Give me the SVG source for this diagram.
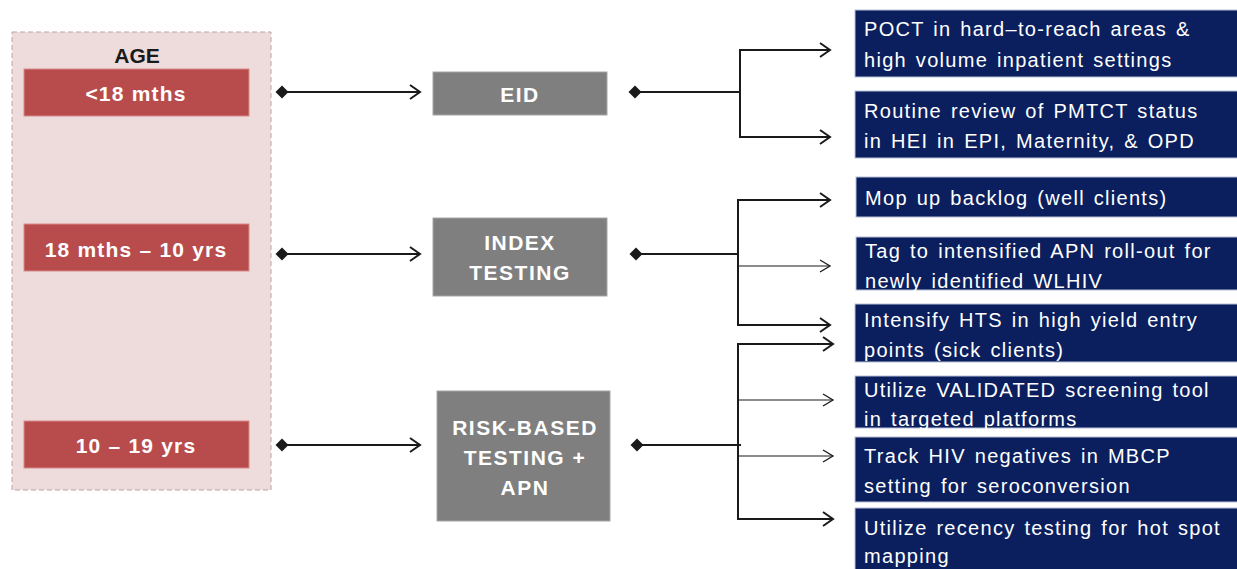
<svg xmlns="http://www.w3.org/2000/svg" width="1237" height="569" viewBox="0 0 1237 569">
<style>
.age{fill:#b84c4c;stroke:#d98a8a;stroke-width:1}
.agetxt{font-family:"Liberation Sans",Arial,sans-serif;font-weight:bold;font-size:21px;fill:#ffffff;text-anchor:middle;letter-spacing:1.2px}
.gray{fill:#7f7f7f;stroke:#a6a6a6;stroke-width:1}
.graytxt{font-family:"Liberation Sans",Arial,sans-serif;font-weight:bold;font-size:21px;fill:#ffffff;text-anchor:middle;letter-spacing:1.5px}
.blue{fill:#0b1f5e;stroke:#b8c0d8;stroke-width:1}
.bluetxt{font-family:"Liberation Sans",Arial,sans-serif;font-size:20px;fill:#ffffff;letter-spacing:1.3px;word-spacing:2px}
.thick{fill:none;stroke:#1a1a1a;stroke-width:2}
.thin{fill:none;stroke:#1a1a1a;stroke-width:1.2}
</style>
<defs>
<marker id="dia" markerUnits="userSpaceOnUse" markerWidth="16" markerHeight="16" refX="8" refY="8" orient="auto">
<path d="M1.5,8 L8,1.5 L14.5,8 L8,14.5 Z" fill="#1a1a1a"/>
</marker>
<marker id="arr" markerUnits="userSpaceOnUse" markerWidth="14" markerHeight="18" refX="12" refY="9" orient="auto">
<path d="M2,2 L12,9 L2,16" fill="none" stroke="#1a1a1a" stroke-width="2"/>
</marker>
<marker id="arrthin" markerUnits="userSpaceOnUse" markerWidth="14" markerHeight="18" refX="12" refY="9" orient="auto">
<path d="M2,3 L12,9 L2,15" fill="none" stroke="#1a1a1a" stroke-width="1.3"/>
</marker>
</defs>
<rect width="1237" height="569" fill="#ffffff"/>

<g id="age-panel">
<rect x="12" y="32" width="259" height="458" fill="#eedcdc" stroke="#b8a4a4" stroke-width="1" stroke-dasharray="5,3"/>
<text x="137" y="63" font-family="Liberation Sans,Arial,sans-serif" font-weight="bold" font-size="21" fill="#1a1a1a" text-anchor="middle">AGE</text>
</g>
<g id="age1"><rect class="age" x="24" y="69" width="225" height="47"/><text class="agetxt" x="136" y="101">&lt;18 mths</text></g>
<g id="age2"><rect class="age" x="24" y="224" width="225" height="47"/><text class="agetxt" x="136" y="257">18 mths – 10 yrs</text></g>
<g id="age3"><rect class="age" x="24" y="421" width="225" height="47"/><text class="agetxt" x="136" y="453">10 – 19 yrs</text></g>

<g id="eid"><rect class="gray" x="433" y="72" width="174" height="43"/><text class="graytxt" x="520" y="102">EID</text></g>
<g id="index"><rect class="gray" x="433" y="218" width="174" height="78"/><text class="graytxt" x="520" y="250">INDEX</text><text class="graytxt" x="520" y="280">TESTING</text></g>
<g id="risk"><rect class="gray" x="437" y="391" width="173" height="130"/><text class="graytxt" x="525" y="435">RISK-BASED</text><text class="graytxt" x="525" y="465">TESTING +</text><text class="graytxt" x="525" y="495">APN</text></g>

<g id="b1"><rect class="blue" x="855" y="10" width="390" height="67"/><text class="bluetxt" x="864" y="36">POCT in hard–to-reach areas &amp;</text><text class="bluetxt" x="864" y="67">high volume inpatient settings</text></g>
<g id="b2"><rect class="blue" x="855" y="91" width="390" height="67"/><text class="bluetxt" x="864" y="118">Routine review of PMTCT status</text><text class="bluetxt" x="864" y="148">in HEI in EPI, Maternity, &amp; OPD</text></g>
<g id="b3"><rect class="blue" x="856" y="177" width="390" height="40"/><text class="bluetxt" x="865" y="205">Mop up backlog (well clients)</text></g>
<g id="b4"><rect class="blue" x="856" y="237" width="390" height="53"/><text class="bluetxt" x="865" y="258">Tag to intensified APN roll-out for</text><text class="bluetxt" x="865" y="288">newly identified WLHIV</text></g>
<g id="b5"><rect class="blue" x="855" y="304" width="390" height="58"/><text class="bluetxt" x="864" y="327">Intensify HTS in high yield entry</text><text class="bluetxt" x="864" y="357">points (sick clients)</text></g>
<g id="b6"><rect class="blue" x="855" y="376" width="390" height="52"/><text class="bluetxt" x="864" y="397">Utilize VALIDATED screening tool</text><text class="bluetxt" x="864" y="426">in targeted platforms</text></g>
<g id="b7"><rect class="blue" x="855" y="437" width="390" height="65"/><text class="bluetxt" x="864" y="463">Track  HIV negatives in MBCP</text><text class="bluetxt" x="864" y="493">setting for seroconversion</text></g>
<g id="b8"><rect class="blue" x="855" y="508" width="390" height="70"/><text class="bluetxt" x="864" y="535">Utilize recency testing for hot spot</text><text class="bluetxt" x="864" y="563">mapping</text></g>

<g id="connectors">
<path class="thick" d="M282,92 H420" marker-start="url(#dia)" marker-end="url(#arr)"/>
<path class="thick" d="M282,254 H420" marker-start="url(#dia)" marker-end="url(#arr)"/>
<path class="thick" d="M282,445 H420" marker-start="url(#dia)" marker-end="url(#arr)"/>

<path class="thick" d="M635,92 H740 V50 H830" marker-start="url(#dia)" marker-end="url(#arr)"/>
<path class="thick" d="M740,92 V137 H830" marker-end="url(#arr)"/>

<path class="thick" d="M636,254 H738 V200 H830" marker-start="url(#dia)" marker-end="url(#arr)"/>
<path class="thin" d="M738,266 H830" marker-end="url(#arrthin)"/>
<path class="thick" d="M738,254 V325 H830" marker-end="url(#arr)"/>

<path class="thick" d="M637,445 H741" marker-start="url(#dia)"/>
<path class="thick" d="M738,445 V344 H833" marker-end="url(#arr)"/>
<path class="thin" d="M738,400 H833" marker-end="url(#arrthin)"/>
<path class="thin" d="M738,456 H833" marker-end="url(#arrthin)"/>
<path class="thick" d="M738,445 V519 H833" marker-end="url(#arr)"/>
</g>
</svg>
